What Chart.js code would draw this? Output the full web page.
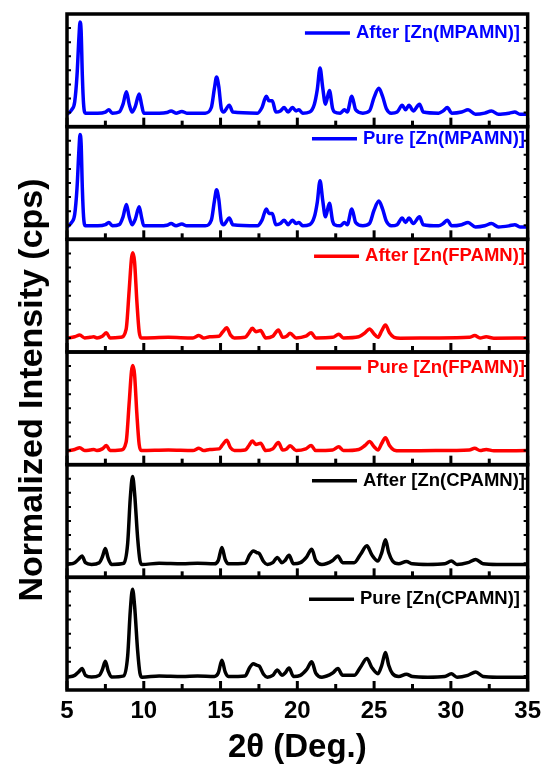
<!DOCTYPE html>
<html>
<head>
<meta charset="utf-8">
<script src="https://cdn.jsdelivr.net/npm/chart.js"></script>
<style>
html, body { margin: 0; padding: 0; background: #fff; }
#wrap { width: 548px; height: 771px; }
</style>
</head>
<body>
<div id="wrap"><canvas id="xrd" width="548" height="771"></canvas></div>
<script>
// 2theta positions (deg) and normalized intensity
const mpamnX = [5.0, 5.3, 5.5, 5.65, 5.78, 5.85, 5.92, 6.0, 6.08, 6.2, 7.0, 7.5, 7.72, 7.95, 8.4, 8.65, 8.87, 9.05, 9.24, 9.45, 9.7, 9.85, 10.0, 11.0, 11.5, 11.78, 12.1, 12.48, 12.8, 14.0, 14.4, 14.6, 14.74, 14.88, 15.05, 15.2, 15.57, 15.8, 17.4, 17.7, 17.98, 18.15, 18.37, 18.6, 18.9, 19.14, 19.4, 19.68, 19.92, 20.1, 20.35, 20.8, 21.11, 21.3, 21.48, 21.65, 21.83, 22.09, 22.3, 22.42, 22.8, 23.07, 23.25, 23.55, 23.8, 24.27, 24.7, 25.0, 25.31, 25.55, 25.8, 26.12, 26.5, 26.83, 27.05, 27.27, 27.55, 27.96, 28.2, 29.2, 29.5, 29.77, 30.05, 30.7, 31.12, 31.6, 32.2, 32.64, 33.1, 33.8, 34.16, 34.5, 35.0];
const afterMpamn = [0.11, 0.15, 0.22, 0.45, 0.80, 0.93, 0.85, 0.45, 0.20, 0.12, 0.12, 0.13, 0.15, 0.12, 0.13, 0.20, 0.31, 0.20, 0.13, 0.18, 0.29, 0.20, 0.12, 0.12, 0.125, 0.14, 0.12, 0.135, 0.12, 0.12, 0.17, 0.34, 0.44, 0.36, 0.16, 0.13, 0.19, 0.13, 0.12, 0.17, 0.27, 0.23, 0.23, 0.13, 0.14, 0.17, 0.13, 0.17, 0.14, 0.15, 0.12, 0.13, 0.20, 0.33, 0.52, 0.35, 0.20, 0.32, 0.16, 0.13, 0.12, 0.15, 0.13, 0.27, 0.15, 0.12, 0.14, 0.26, 0.34, 0.27, 0.16, 0.12, 0.13, 0.19, 0.15, 0.19, 0.14, 0.20, 0.13, 0.12, 0.14, 0.17, 0.12, 0.13, 0.15, 0.11, 0.12, 0.14, 0.11, 0.12, 0.13, 0.11, 0.11];
const pureMpamn = [0.11, 0.15, 0.22, 0.45, 0.80, 0.93, 0.85, 0.45, 0.20, 0.12, 0.12, 0.13, 0.15, 0.12, 0.13, 0.20, 0.31, 0.20, 0.13, 0.18, 0.29, 0.20, 0.12, 0.12, 0.125, 0.14, 0.12, 0.135, 0.12, 0.12, 0.17, 0.34, 0.44, 0.36, 0.16, 0.13, 0.19, 0.13, 0.12, 0.17, 0.27, 0.23, 0.23, 0.13, 0.14, 0.17, 0.13, 0.17, 0.14, 0.15, 0.12, 0.13, 0.20, 0.33, 0.52, 0.35, 0.20, 0.32, 0.16, 0.13, 0.12, 0.15, 0.13, 0.27, 0.15, 0.12, 0.14, 0.26, 0.34, 0.27, 0.16, 0.12, 0.13, 0.19, 0.15, 0.19, 0.14, 0.20, 0.13, 0.12, 0.14, 0.17, 0.12, 0.13, 0.15, 0.11, 0.12, 0.14, 0.11, 0.12, 0.13, 0.11, 0.11];

const fpamnX = [5.0, 5.5, 5.83, 6.15, 6.5, 6.74, 6.95, 7.3, 7.57, 7.8, 8.5, 8.85, 9.05, 9.2, 9.29, 9.4, 9.55, 9.7, 9.83, 11.6, 13.2, 13.59, 13.9, 14.3, 14.9, 15.15, 15.4, 15.65, 15.9, 16.6, 16.85, 17.07, 17.3, 17.61, 17.94, 18.4, 18.77, 19.05, 19.3, 19.53, 19.92, 20.55, 20.9, 21.2, 22.3, 22.7, 23.0, 24.0, 24.4, 24.7, 25.0, 25.25, 25.5, 25.74, 26.0, 26.3, 26.7, 29.0, 31.2, 31.55, 31.9, 32.3, 32.8, 35.0];
const afterFpamn = [0.123, 0.135, 0.15, 0.125, 0.13, 0.135, 0.125, 0.14, 0.17, 0.125, 0.13, 0.20, 0.55, 0.83, 0.88, 0.80, 0.45, 0.18, 0.125, 0.13, 0.125, 0.146, 0.125, 0.135, 0.14, 0.18, 0.216, 0.15, 0.125, 0.13, 0.17, 0.21, 0.18, 0.19, 0.125, 0.14, 0.196, 0.13, 0.14, 0.167, 0.125, 0.14, 0.17, 0.125, 0.13, 0.158, 0.125, 0.135, 0.17, 0.205, 0.16, 0.13, 0.19, 0.24, 0.17, 0.13, 0.123, 0.125, 0.13, 0.146, 0.125, 0.135, 0.123, 0.125];
const pureFpamn = [0.123, 0.135, 0.15, 0.125, 0.13, 0.135, 0.125, 0.14, 0.17, 0.125, 0.13, 0.20, 0.55, 0.83, 0.88, 0.80, 0.45, 0.18, 0.125, 0.13, 0.125, 0.146, 0.125, 0.135, 0.14, 0.18, 0.216, 0.15, 0.125, 0.13, 0.17, 0.21, 0.18, 0.19, 0.125, 0.14, 0.196, 0.13, 0.14, 0.167, 0.125, 0.14, 0.17, 0.125, 0.13, 0.158, 0.125, 0.135, 0.17, 0.205, 0.16, 0.13, 0.19, 0.24, 0.17, 0.13, 0.123, 0.125, 0.13, 0.146, 0.125, 0.135, 0.123, 0.125];

const cpamnX = [5.0, 5.5, 5.75, 5.98, 6.2, 6.6, 7.1, 7.3, 7.5, 7.68, 7.9, 8.7, 8.95, 9.12, 9.27, 9.4, 9.6, 9.75, 9.89, 11.0, 12.5, 13.5, 14.6, 14.85, 15.09, 15.3, 15.5, 16.6, 16.9, 17.13, 17.35, 17.52, 17.8, 18.05, 18.4, 18.7, 19.0, 19.2, 19.46, 19.75, 20.2, 20.6, 20.94, 21.2, 21.6, 22.3, 22.64, 22.95, 23.7, 24.1, 24.53, 24.85, 25.25, 25.5, 25.74, 25.95, 26.2, 26.6, 27.1, 27.5, 28.5, 29.6, 30.03, 30.4, 31.1, 31.62, 32.1, 33.0, 35.0];
const afterCpamn = [0.114, 0.13, 0.16, 0.19, 0.13, 0.115, 0.13, 0.18, 0.255, 0.17, 0.115, 0.125, 0.30, 0.70, 0.895, 0.75, 0.35, 0.15, 0.114, 0.125, 0.12, 0.125, 0.12, 0.15, 0.264, 0.16, 0.12, 0.125, 0.20, 0.234, 0.22, 0.212, 0.14, 0.114, 0.13, 0.177, 0.13, 0.15, 0.195, 0.12, 0.13, 0.18, 0.25, 0.15, 0.114, 0.15, 0.19, 0.13, 0.13, 0.20, 0.28, 0.20, 0.145, 0.22, 0.333, 0.22, 0.145, 0.12, 0.14, 0.12, 0.114, 0.12, 0.144, 0.114, 0.13, 0.159, 0.12, 0.114, 0.114];
const pureCpamn = [0.114, 0.13, 0.16, 0.19, 0.13, 0.115, 0.13, 0.18, 0.255, 0.17, 0.115, 0.125, 0.30, 0.70, 0.895, 0.75, 0.35, 0.15, 0.114, 0.125, 0.12, 0.125, 0.12, 0.15, 0.264, 0.16, 0.12, 0.125, 0.20, 0.234, 0.22, 0.212, 0.14, 0.114, 0.13, 0.177, 0.13, 0.15, 0.195, 0.12, 0.13, 0.18, 0.25, 0.15, 0.114, 0.15, 0.19, 0.13, 0.13, 0.20, 0.28, 0.20, 0.145, 0.22, 0.333, 0.22, 0.145, 0.12, 0.14, 0.12, 0.114, 0.12, 0.144, 0.114, 0.13, 0.159, 0.12, 0.114, 0.114];

const seriesLabels = ['After [Zn(MPAMN)]', 'Pure [Zn(MPAMN)]', 'After [Zn(FPAMN)]', 'Pure [Zn(FPAMN)]', 'After [Zn(CPAMN)]', 'Pure [Zn(CPAMN)]'];
const xTickLabels = [5, 10, 15, 20, 25, 30, 35];

(function() {
'use strict';

const FONT = '"Liberation Sans", Arial, Helvetica, sans-serif';
const colors = ['#0000ff', '#0000ff', '#ff0000', '#ff0000', '#000000', '#000000'];
// legend placement per panel (offset from panel top, right edge, font size)
const legendDy = [19, 12, 17, 16, 16, 22];
const legendRight = [520, 525, 525, 525, 525, 520];
const legendSize = [18.5, 18.5, 18.5, 18.5, 18.5, 18.5];

const xs = [mpamnX, mpamnX, fpamnX, fpamnX, cpamnX, cpamnX];
const ys = [afterMpamn, pureMpamn, afterFpamn, pureFpamn, afterCpamn, pureCpamn];

function pts(x, y) {
  return x.map((v, i) => ({x: v, y: y[i]}));
}

const datasets = seriesLabels.map((lab, i) => ({
  label: lab,
  data: pts(xs[i], ys[i]),
  yAxisID: 'y' + i,
  borderColor: colors[i],
  borderWidth: 3.5,
  pointRadius: 0,
  fill: false,
  cubicInterpolationMode: 'monotone'
}));

// stacked y scales; the last one defined ends up on top, so go bottom -> top
const scales = {
  x: {
    type: 'linear',
    min: 5,
    max: 35,
    afterFit: s => { s.height = 81; },
    grid: {display: false, drawTicks: false},
    border: {display: false},
    ticks: {
      stepSize: 2.5,
      autoSkip: false,
      maxRotation: 0,
      padding: 7,
      color: '#000',
      font: {family: FONT, size: 24, weight: 'bold'},
      callback: v => xTickLabels.includes(v) ? String(v) : ''
    },
    title: {
      display: true,
      text: '2θ (Deg.)',
      color: '#000',
      font: {family: FONT, size: 33, weight: 'bold'},
      padding: {top: 0, bottom: 3}
    }
  }
};
for (let i = seriesLabels.length - 1; i >= 0; i--) {
  scales['y' + i] = {
    type: 'linear',
    position: 'left',
    stack: 'xrd',
    stackWeight: 1,
    min: 0,
    max: 1,
    afterFit: s => { s.width = 0; },
    grid: {display: false, drawTicks: false},
    border: {display: false},
    ticks: {display: false, stepSize: 0.125}
  };
}

const frames = {
  id: 'frames',
  afterDatasetsDraw(chart) {
    const {ctx, chartArea: a} = chart;
    const sx = chart.scales.x;
    ctx.save();
    ctx.strokeStyle = '#000';
    chart.data.datasets.forEach((ds, i) => {
      const sy = chart.scales[ds.yAxisID];
      const top = sy.top, bot = sy.bottom;

      // small inward y ticks on both sides
      ctx.lineWidth = 2;
      sy.ticks.forEach(t => {
        const py = sy.getPixelForValue(t.value);
        ctx.beginPath();
        ctx.moveTo(a.left, py); ctx.lineTo(a.left + 4, py);
        ctx.moveTo(a.right, py); ctx.lineTo(a.right - 4, py);
        ctx.stroke();
      });

      // inward x ticks at the bottom of each panel
      ctx.lineWidth = 3;
      sx.ticks.forEach(t => {
        const px = sx.getPixelForValue(t.value);
        const len = xTickLabels.includes(t.value) ? 9 : 6;
        ctx.beginPath();
        ctx.moveTo(px, bot); ctx.lineTo(px, bot - len);
        ctx.stroke();
      });

      ctx.lineWidth = 3.5;
      ctx.strokeRect(a.left, top, a.right - a.left, bot - top);

      // per-panel legend
      const ly = top + legendDy[i];
      ctx.font = 'bold ' + legendSize[i] + 'px ' + FONT;
      ctx.fillStyle = ds.borderColor;
      ctx.textAlign = 'right';
      ctx.textBaseline = 'middle';
      ctx.fillText(ds.label, legendRight[i], ly);
      const w = ctx.measureText(ds.label).width;
      const x1 = legendRight[i] - w - 6;
      ctx.strokeStyle = ds.borderColor;
      ctx.lineWidth = 3.5;
      ctx.beginPath();
      ctx.moveTo(x1 - 45, ly); ctx.lineTo(x1, ly);
      ctx.stroke();
      ctx.strokeStyle = '#000';
    });

    // shared y title
    ctx.translate(33, 390);
    ctx.rotate(-Math.PI / 2);
    ctx.font = 'bold 34px ' + FONT;
    ctx.fillStyle = '#000';
    ctx.textAlign = 'center';
    ctx.textBaseline = 'middle';
    ctx.fillText('Normalized Intensity (cps)', 0, 0);
    ctx.restore();
  }
};

new Chart(document.getElementById('xrd'), {
  type: 'line',
  data: {datasets: datasets},
  options: {
    responsive: false,
    animation: false,
    layout: {padding: {left: 67, right: 20, top: 14, bottom: 0}},
    plugins: {legend: {display: false}, tooltip: {enabled: false}},
    scales: scales
  },
  plugins: [frames]
});
})();
</script>
</body>
</html>
